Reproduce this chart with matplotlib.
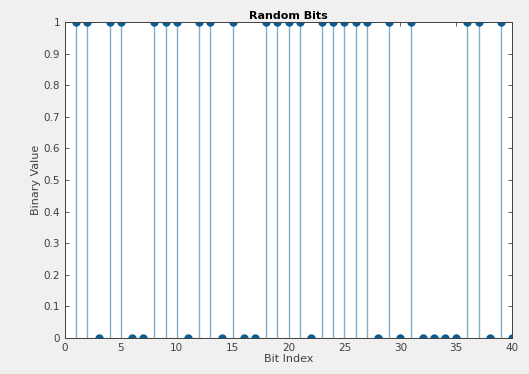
import matplotlib.pyplot as plt
import numpy as np

bit_index = np.arange(1, 41)
bits = [1, 1, 0, 1, 1, 0, 0, 1, 1, 1,
        0, 1, 1, 0, 1, 0, 0, 1, 1, 1,
        1, 0, 1, 1, 1, 1, 1, 0, 1, 0,
        1, 0, 0, 0, 0, 1, 1, 0, 1, 0]
xticks = [0, 5, 10, 15, 20, 25, 30, 35, 40]
yticks = np.round(np.arange(0, 1.01, 0.1), 1)
ytick_labels = ['0', '0.1', '0.2', '0.3', '0.4', '0.5', '0.6', '0.7', '0.8', '0.9', '1']

plt.rcParams['font.family'] = ['DejaVu Sans']

fig = plt.figure(figsize=(5.29, 3.74), dpi=100, facecolor='#f0f0f0')
ax = fig.add_axes([0.123, 0.096, 0.845, 0.845])

markerline, stemlines, baseline = ax.stem(bit_index, bits)
plt.setp(stemlines, color='#7fafc6', linewidth=1.0)
plt.setp(markerline, color='#0a5c94', markersize=5)
plt.setp(baseline, color='#707070', linewidth=0.8)

ax.set_xlim(0, 40)
ax.set_ylim(0, 1)
ax.set_xticks(xticks)
ax.set_yticks(yticks)
ax.set_yticklabels(ytick_labels)
ax.tick_params(direction='in', top=True, right=True, length=3, labelsize=7.5,
               colors='#404040', width=0.6)
for s in ax.spines.values():
    s.set_color('#404040')
    s.set_linewidth(0.7)

ax.set_title('Random Bits', fontsize=8, fontweight='bold', pad=2)
ax.set_xlabel('Bit Index', fontsize=8, color='#404040', labelpad=1)
ax.set_ylabel('Binary Value', fontsize=8, color='#404040', labelpad=2)

fig.savefig('out.png', dpi=100, facecolor=fig.get_facecolor())
